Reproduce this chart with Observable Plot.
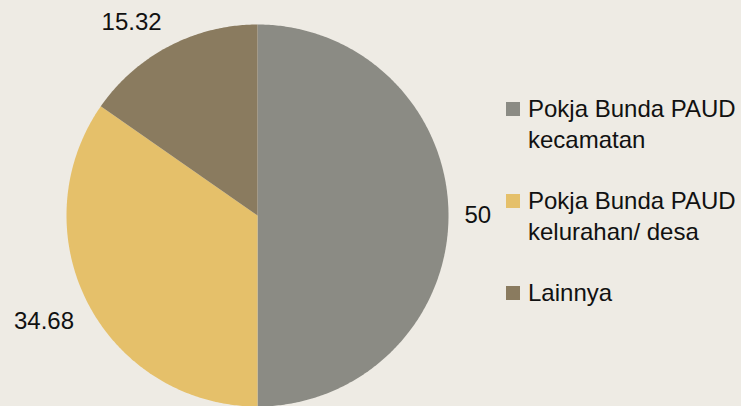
<!DOCTYPE html>
<html><head><meta charset="utf-8">
<script src="https://cdn.jsdelivr.net/npm/d3@7"></script>
<script src="https://cdn.jsdelivr.net/npm/@observablehq/plot@0.6"></script>
<style>
html,body{margin:0;padding:0;background:#eeebe4;}
#wrap{position:relative;width:741px;height:406px;font-family:"Liberation Sans",Arial,sans-serif;}
#legend{position:absolute;left:506px;top:93px;font-size:24px;color:#111;line-height:31px;white-space:nowrap;}
.item{display:flex;align-items:flex-start;margin-bottom:30px;}
.sw{width:14px;height:14px;margin-top:9px;margin-right:8px;flex:none;}
</style></head>
<body><div id="wrap"><div id="chart"></div><div id="legend"></div></div>
<script>
const categories = ["Pokja Bunda PAUD kecamatan", "Pokja Bunda PAUD kelurahan/ desa", "Lainnya"];
const legendLines = [["Pokja Bunda PAUD", "kecamatan"], ["Pokja Bunda PAUD", "kelurahan/ desa"], ["Lainnya"]];
const values = [50, 34.68, 15.32];
const labels = ["50", "34.68", "15.32"];
const colors = ["#8b8b84", "#e5c06a", "#8a7b5f"];

const W = 741, H = 406, R = 191, CX = 257, CY = 215, FS = 24;
const pie = d3.pie().sort(null).value(d => d.value)(categories.map((c, i) => ({cat: c, value: values[i], label: labels[i]})));

const pts = [];
pie.forEach(a => {
  pts.push({cat: a.data.cat, x: 0, y: 0});
  const n = Math.max(2, Math.ceil((a.endAngle - a.startAngle) / 0.01));
  for (let k = 0; k <= n; k++) {
    const t = a.startAngle + (a.endAngle - a.startAngle) * k / n;
    pts.push({cat: a.data.cat, x: R * Math.sin(t), y: -R * Math.cos(t)});
  }
  pts.push({cat: a.data.cat, x: 0, y: 0});
});
const labs = pie.map(a => {
  const m = (a.startAngle + a.endAngle) / 2;
  const rr = R + 16;
  const s = Math.sin(m), c = Math.cos(m);
  const sc = Math.abs(c) < 1e-6 ? 0 : Math.sign(c);
  return {label: a.data.label, x: rr * s, y: -rr * c - sc * 10, left: s < 0};
});

const chart = Plot.plot({
  width: W, height: H,
  margin: 0,
  style: {background: "#eeebe4", fontFamily: "Liberation Sans, Arial, sans-serif"},
  x: {domain: [-CX, W - CX], range: [0, W], axis: null},
  y: {domain: [-CY, H - CY], range: [0, H], axis: null},
  color: {domain: categories, range: colors},
  marks: [
    Plot.line(pts, {x: "x", y: "y", z: "cat", fill: "cat", stroke: null, curve: "linear"}),
    Plot.text(labs.filter(d => d.left), {x: "x", y: "y", text: "label", fontSize: FS, fill: "#111", textAnchor: "end"}),
    Plot.text(labs.filter(d => !d.left), {x: "x", y: "y", text: "label", fontSize: FS, fill: "#111", textAnchor: "start"})
  ]
});
document.getElementById("chart").appendChild(chart);

const lg = document.getElementById("legend");
categories.forEach((c, i) => {
  const it = document.createElement("div"); it.className = "item";
  const sw = document.createElement("div"); sw.className = "sw"; sw.style.background = colors[i];
  const tx = document.createElement("div"); tx.innerHTML = legendLines[i].join("<br>");
  it.appendChild(sw); it.appendChild(tx); lg.appendChild(it);
});
</script></body></html>
